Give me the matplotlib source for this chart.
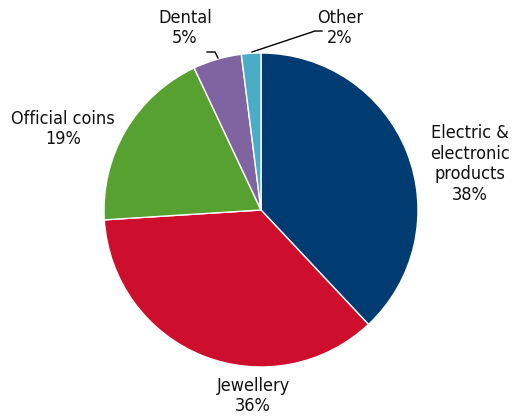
import matplotlib
matplotlib.use("Agg")
import matplotlib.pyplot as plt
from matplotlib import font_manager

labels = ["Electric &\nelectronic\nproducts", "Jewellery", "Official coins", "Dental", "Other"]
shares = [38, 36, 19, 5, 2]
colors = ["#003C71", "#CE0E2D", "#56A12F", "#8064A2", "#4BACC6"]

names = sorted({f.name + "|" + str(f.stretch) for f in font_manager.fontManager.ttflist})
print(names)

plt.rcParams["font.family"] = ["DejaVu Sans"]
plt.rcParams["font.stretch"] = "condensed"

fig = plt.figure(figsize=(5.13, 4.19), dpi=100)
ax = fig.add_axes([0, 0, 1, 1])

ax.pie(shares, colors=colors, startangle=90, counterclock=False,
       center=(261, 209), radius=157, frame=True,
       wedgeprops=dict(edgecolor="white", linewidth=1))
ax.set_xlim(0, 513)
ax.set_ylim(0, 419)
ax.axis("off")

# label positions (pixel coords, y up)
pos = [(470, 255), (253, 23), (63, 290), (185, 391), (340, 391)]
for lab, val, (x, y) in zip(labels, shares, pos):
    ax.text(x, y, f"{lab}\n{val}%", ha="center", va="center", fontsize=13,
            linespacing=1.2, color="#111111", multialignment="center")

# leader lines
ax.plot([207, 215, 218], [367, 367, 361], color="black", lw=1)
ax.plot([322, 315, 252], [388, 388, 367], color="black", lw=1)

fig.savefig("out.png", dpi=100)
